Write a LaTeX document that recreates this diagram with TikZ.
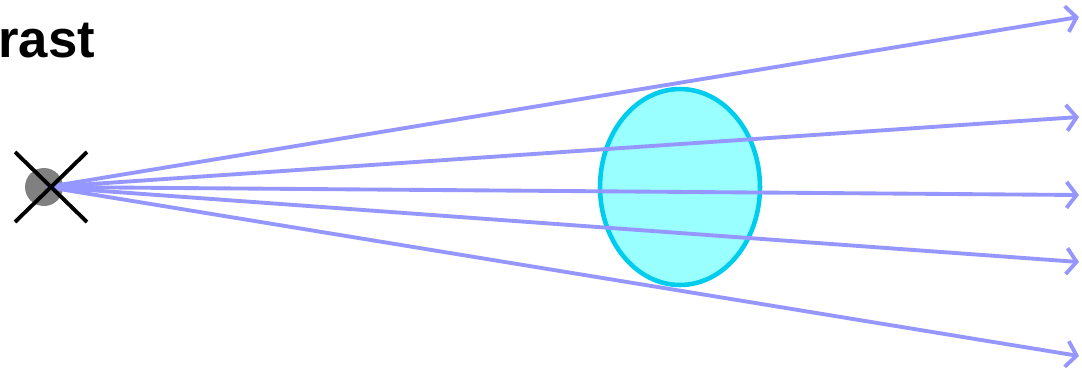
\documentclass[tikz,border=0pt]{standalone}
\usepackage{fontspec}
\setmainfont{Liberation Sans}
\usepackage{tikz}
\usetikzlibrary{shapes.geometric, arrows.meta, positioning}
\definecolor{raycol}{RGB}{150,150,255}
\definecolor{lensfill}{RGB}{153,255,255}
\definecolor{lensdraw}{RGB}{0,204,238}
\tikzstyle{lens} = [ellipse, minimum width=3.2cm, minimum height=3.92cm, inner sep=0pt, draw=lensdraw, fill=lensfill, line width=2.6pt]
\tikzstyle{ray} = [draw=raycol, line width=2.2pt, -{Straight Barb[length=0.2cm, width=0.52cm]}]
\tikzstyle{src} = [circle, minimum size=0.76cm, inner sep=0pt, fill=gray]
\tikzstyle{cross} = [draw=black, line width=2.2pt]

\begin{document}
\begin{tikzpicture}[x=0.02cm, y=-0.02cm]
    \useasboundingbox (0,0) rectangle (1082,373);
    % Title
    \node [anchor=base west, inner sep=0pt, font=\fontsize{30}{30}\selectfont\bfseries] (title) at (-2,57) {rast};
    % Nodes
    \node [lens] (glass) at (680,187) {};
    \node [src] (lamp) at (44,187) {};
    \coordinate (focus) at (47,187);
    \coordinate (endA) at (1079,17);
    \coordinate (endB) at (1079,117);
    \coordinate (endC) at (1079,195);
    \coordinate (endD) at (1079,262);
    \coordinate (endE) at (1079,356);
    \coordinate (xa) at (15,152);
    \coordinate (xb) at (87,222);
    \coordinate (xc) at (15,222);
    \coordinate (xd) at (87,152);

    % Edges
    \path [ray] (focus) -- (endA);
    \path [ray] (focus) -- (endB);
    \path [ray] (focus) -- (endC);
    \path [ray] (focus) -- (endD);
    \path [ray] (focus) -- (endE);
    \path [cross] (xa) -- (xb);
    \path [cross] (xc) -- (xd);
\end{tikzpicture}
\end{document}
